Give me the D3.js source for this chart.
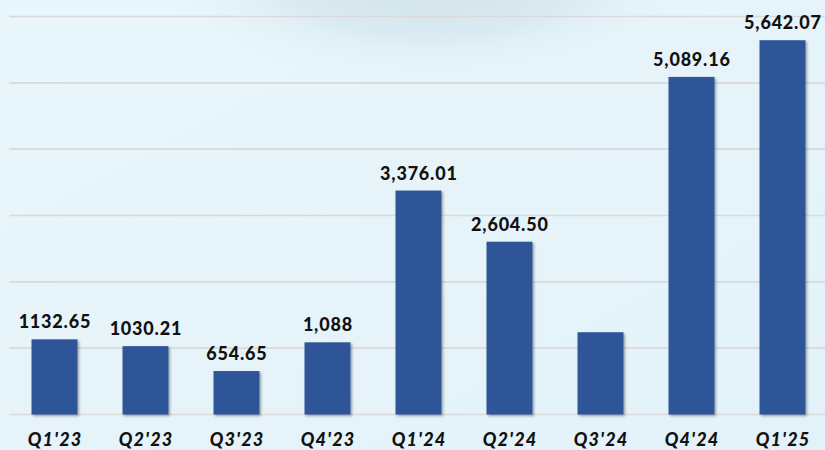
<!DOCTYPE html>
<html><head><meta charset="utf-8">
<script src="https://cdn.jsdelivr.net/npm/d3@7"></script>
<style>html,body{margin:0;padding:0;overflow:hidden;background:#e8f5fb}</style>
</head><body>
<script>
const categories = ["Q1'23","Q2'23","Q3'23","Q4'23","Q1'24","Q2'24","Q3'24","Q4'24","Q1'25"];
const values = [1132.65, 1030.21, 654.65, 1088, 3376.01, 2604.50, 1240, 5089.16, 5642.07];
const valueLabels = ["1132.65","1030.21","654.65","1,088","3,376.01","2,604.50","","5,089.16","5,642.07"];
const gridTicks = [0,1000,2000,3000,4000,5000,6000];

const W = 825, H = 450;
const svg = d3.select("body").append("svg").attr("width", W).attr("height", H);
const defs = svg.append("defs");
const lg = defs.append("linearGradient").attr("id","bg").attr("x1",0).attr("y1",0).attr("x2",1).attr("y2",1);
lg.append("stop").attr("offset","0%").attr("stop-color","#e9f6fb");
lg.append("stop").attr("offset","100%").attr("stop-color","#e3f2f9");
const rg = defs.append("radialGradient").attr("id","spot").attr("gradientUnits","userSpaceOnUse")
  .attr("cx",430).attr("cy",-40).attr("r",280).attr("gradientTransform","translate(430,-40) scale(1,0.45) translate(-430,40)");
rg.append("stop").attr("offset","0%").attr("stop-color","#c9dbe4").attr("stop-opacity",1);
rg.append("stop").attr("offset","60%").attr("stop-color","#d6e6ee").attr("stop-opacity",0.7);
rg.append("stop").attr("offset","100%").attr("stop-color","#e6f4fa").attr("stop-opacity",0);
const f = defs.append("filter").attr("id","sh").attr("x","-20%").attr("y","-10%").attr("width","140%").attr("height","120%");
f.append("feDropShadow").attr("dx",1.5).attr("dy",1.5).attr("stdDeviation",1.2).attr("flood-color","#000").attr("flood-opacity",0.35);

svg.append("rect").attr("width",W).attr("height",H).attr("fill","url(#bg)");
svg.append("rect").attr("width",W).attr("height",H).attr("fill","url(#spot)");

const x = d3.scaleBand().domain(categories).range([9, 828]).paddingInner(0.495).paddingOuter(0.2475);
const y = d3.scaleLinear().domain([0, 6000]).range([414.5, 16.5]);

svg.append("g").selectAll("line").data(gridTicks).join("line")
  .attr("x1", 9).attr("x2", W).attr("y1", d => y(d)).attr("y2", d => y(d))
  .attr("stroke", "#d9d9d9").attr("stroke-width", 1.6);

svg.append("g").selectAll("rect").data(values).join("rect")
  .attr("x", (d,i) => x(categories[i])).attr("width", x.bandwidth())
  .attr("y", d => y(d)).attr("height", d => y(0) - y(d))
  .attr("fill", "#2f5597").attr("filter","url(#sh)");

svg.append("g").selectAll("text").data(values).join("text")
  .attr("x", (d,i) => x(categories[i]) + x.bandwidth()/2 + 0.4)
  .attr("y", d => y(d) - 11)
  .attr("text-anchor","middle")
  .attr("font-family","Lato, 'Open Sans', sans-serif").attr("font-weight","900").attr("font-size",18)
  .attr("letter-spacing","0.8px")
  .attr("fill","#111")
  .text((d,i) => valueLabels[i]);

const xAxis = svg.append("g").attr("transform", `translate(0,${y(0)})`)
  .call(d3.axisBottom(x).tickSize(0).tickPadding(19));
xAxis.select(".domain").remove();
xAxis.selectAll("text")
  .attr("font-family","Lato, 'Open Sans', sans-serif").attr("font-weight","900").attr("font-style","italic")
  .attr("font-size",18).attr("letter-spacing","1.2px").attr("dx","0.6")
  .attr("fill","#111");
</script>
</body></html>
